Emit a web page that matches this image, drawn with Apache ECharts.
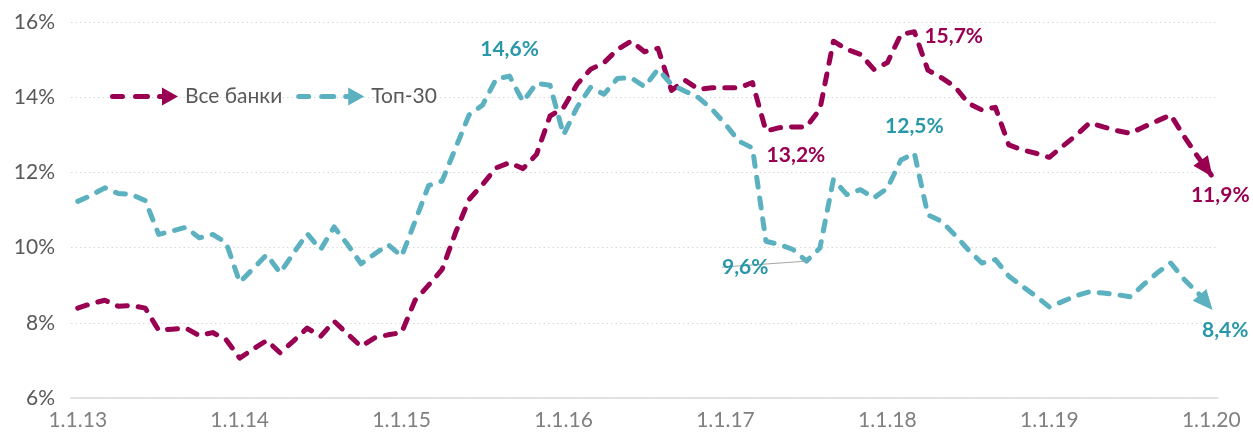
<!DOCTYPE html>
<html>
<head>
<meta charset="utf-8">
<script src="https://cdn.jsdelivr.net/npm/echarts@6/dist/echarts.min.js"></script>
<style>
    html, body { margin: 0; padding: 0; background: #fff; }
    #chart_con { width: 1253px; height: 440px; }
</style>
</head>
<body>
<div id="chart_con"></div>
<script>
    // tick labels on the x axis, one per year
    var tickLabels = ['1.1.13', '1.1.14', '1.1.15', '1.1.16', '1.1.17', '1.1.18', '1.1.19', '1.1.20'];

    // monthly values, %, Jan 2013 .. Jan 2020
    var allBanks = [
        8.39, 8.51, 8.60, 8.44, 8.46, 8.39, 7.80, 7.83, 7.86, 7.66, 7.74, 7.55,
        7.06, 7.30, 7.53, 7.20, 7.52, 7.86, 7.64, 8.04, 7.70, 7.37, 7.60, 7.68,
        7.74, 8.60, 9.00, 9.42, 10.40, 11.28, 11.68, 12.12, 12.26, 12.10, 12.48, 13.50,
        13.72, 14.34, 14.74, 14.92, 15.27, 15.49, 15.21, 15.30, 14.18, 14.45, 14.21, 14.25,
        14.25, 14.25, 14.39, 13.10, 13.19, 13.21, 13.21, 13.68, 15.49, 15.27, 15.14, 14.74,
        14.92, 15.67, 15.74, 14.72, 14.52, 14.28, 13.84, 13.66, 13.73, 12.73, 12.60, 12.51,
        12.40, 12.70, 12.99, 13.32, 13.21, 13.11, 13.04, 13.21, 13.37, 13.53, 12.95, 12.42,
        11.93
    ];
    var top30 = [
        11.23, 11.39, 11.59, 11.44, 11.41, 11.25, 10.35, 10.44, 10.54, 10.26, 10.35, 10.13,
        9.08, 9.44, 9.81, 9.33, 9.86, 10.37, 9.95, 10.55, 10.08, 9.57, 9.83, 10.08,
        9.77, 10.70, 11.65, 11.77, 12.65, 13.53, 13.79, 14.48, 14.56, 13.88, 14.37, 14.32,
        13.00, 13.73, 14.26, 14.08, 14.50, 14.52, 14.28, 14.74, 14.34, 14.16, 13.99, 13.68,
        13.28, 12.83, 12.65, 10.17, 10.08, 9.95, 9.64, 9.99, 11.81, 11.41, 11.54, 11.32,
        11.58, 12.33, 12.51, 10.87, 10.70, 10.34, 9.94, 9.59, 9.68, 9.24, 8.97, 8.71,
        8.42, 8.57, 8.72, 8.83, 8.79, 8.75, 8.69, 9.02, 9.33, 9.59, 9.15, 8.80,
        8.38
    ];

    var months = [];
    for (var y = 0; y < tickLabels.length; y++) {
        var yy = tickLabels[y].split('.')[2];
        for (var m = 1; m <= 12; m++) {
            if (y == tickLabels.length - 1 && m > 1) break;
            months.push('1.' + m + '.' + yy);
        }
    }

    var colorAll = '#990052';
    var colorTop = '#5BB1BF';
    var colorTopText = '#2898A8';
    var fontName = 'Lato';

    // which points carry a value label and where it sits
    var allBanksLabels = {
        53: {position: 'bottom', distance: 18, offset: [3, 0]},
        62: {position: 'right', distance: 10, offset: [0, 4]},
        84: {position: 'bottom', distance: 10, offset: [9, 0]}
    };
    var top30Labels = {
        32: {position: 'top', distance: 16},
        54: {position: 'left', distance: 38, offset: [0, 6], leader: true},
        62: {position: 'top', distance: 16},
        84: {position: 'bottom', distance: 11, offset: [14, 0]}
    };

    function fmt(v) {
        return v.toFixed(1).replace('.', ',') + '%';
    }

    function buildData(values, labels, textColor) {
        return values.map(function (v, i) {
            var l = labels[i];
            if (!l) return v;
            var item = {
                value: v,
                label: {
                    show: true,
                    position: l.position,
                    distance: l.distance,
                    offset: l.offset || [0, 0],
                    color: textColor,
                    fontFamily: fontName,
                    fontWeight: 'bold',
                    fontSize: 21,
                    formatter: function (p) { return fmt(p.value); }
                }
            };
            if (l.leader) {
                item.labelLine = {show: true, lineStyle: {color: '#A6A6A6', width: 1}};
            }
            return item;
        });
    }

    var legendIcon = 'path://M2.5,6.5 H12.5 A2.5,2.5 0 0 1 12.5,11.5 H2.5 A2.5,2.5 0 0 1 2.5,6.5 Z' +
        ' M25.5,6.5 H37.5 A2.5,2.5 0 0 1 37.5,11.5 H25.5 A2.5,2.5 0 0 1 25.5,6.5 Z' +
        ' M49.5,6.5 H53 V11.5 H49.5 A2.5,2.5 0 0 1 49.5,6.5 Z' +
        ' M52,0 L68,9 L52,18 Z';

    function lineSeries(id, name, values, labels, color, textColor) {
        return {
            id: id,
            name: name,
            type: 'line',
            data: buildData(values, labels, textColor),
            symbol: 'circle',
            symbolSize: 0,
            showSymbol: true,
            itemStyle: {color: color},
            lineStyle: {color: color, width: 5, type: [10, 11], cap: 'round', join: 'round'},
            emphasis: {disabled: true},
            z: id == 'top' ? 3 : 2
        };
    }

    var chart = echarts.init(document.getElementById('chart_con'));
    var option = {
        animation: false,
        textStyle: {fontFamily: fontName},
        grid: {left: 71, right: 35, top: 22, bottom: 42},
        legend: {
            data: ['Все банки', 'Топ-30'],
            left: 105,
            top: 81,
            icon: legendIcon,
            itemWidth: 68,
            itemHeight: 18,
            itemGap: 14,
            itemStyle: {borderWidth: 0},
            textStyle: {fontFamily: fontName, fontSize: 21, color: '#595959', padding: [0, 0, 0, 2]}
        },
        xAxis: {
            type: 'category',
            data: months,
            boundaryGap: true,
            axisLine: {lineStyle: {color: '#D9D9D9', width: 1.5}},
            axisTick: {show: false},
            axisLabel: {interval: 11, margin: 12, color: '#808080', fontSize: 21, fontFamily: fontName}
        },
        yAxis: {
            type: 'value',
            min: 6,
            max: 16,
            interval: 2,
            axisLine: {show: false},
            axisTick: {show: false},
            axisLabel: {margin: 16, color: '#595959', fontSize: 21, fontFamily: fontName,
                formatter: function (v) { return v + '%'; }},
            splitLine: {lineStyle: {color: '#D9D9D9', type: [1.5, 3], width: 1.2}}
        },
        series: [
            lineSeries('all', 'Все банки', allBanks, allBanksLabels, colorAll, colorAll),
            lineSeries('top', 'Топ-30', top30, top30Labels, colorTop, colorTopText)
        ]
    };
    chart.setOption(option);

    // arrow heads at the last point, turned along the last segment
    function arrowFor(id, idx, values, color) {
        var n = values.length;
        var p1 = chart.convertToPixel({seriesIndex: idx}, [months[n - 2], values[n - 2]]);
        var p2 = chart.convertToPixel({seriesIndex: idx}, [months[n - 1], values[n - 1]]);
        var dx = p2[0] - p1[0], dy = p2[1] - p1[1];
        var len = Math.sqrt(dx * dx + dy * dy);
        var ux = dx / len, uy = dy / len;
        var h = 20;
        return {
            id: id,
            markPoint: {
                silent: true,
                symbol: 'triangle',
                symbolSize: [18, h],
                symbolRotate: Math.atan2(-dx, -dy) * 180 / Math.PI,
                symbolOffset: [-ux * h * 0.4, -uy * h * 0.4],
                itemStyle: {color: color},
                label: {show: false},
                data: [{coord: [months[n - 1], values[n - 1]]}]
            }
        };
    }
    chart.setOption({
        series: [
            arrowFor('all', 0, allBanks, colorAll),
            arrowFor('top', 1, top30, colorTop)
        ]
    });
</script>
</body>
</html>
